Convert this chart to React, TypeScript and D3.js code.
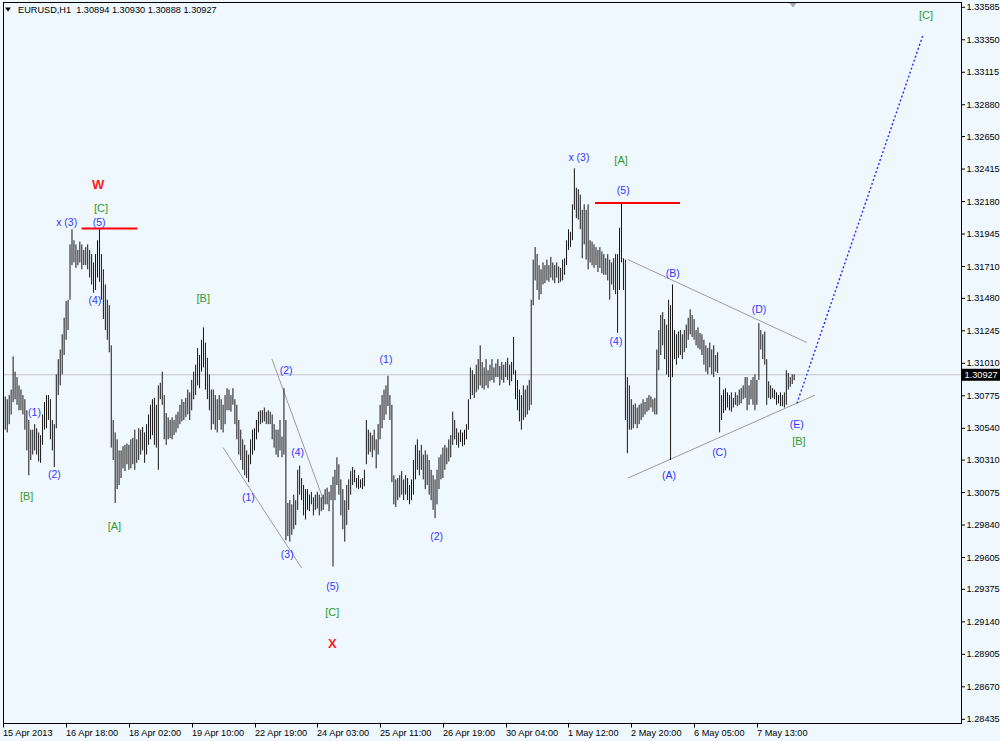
import React from 'react';
import * as d3 from 'd3';

// ---------- data ----------
const SYMBOL = 'EURUSD,H1';
const LAST_OHLC = [1.30894, 1.3093, 1.30888, 1.30927];

// hourly highs, 15 Apr 2013 10:00 -> 8 May 2013
const HIGH = [
  1.3093, 1.3077, 1.3075, 1.3078, 1.3082, 1.3106, 1.3095, 1.3091, 1.3085, 1.3082,
  1.3078, 1.3075, 1.3067, 1.3060, 1.3053, 1.3053, 1.3057, 1.3054, 1.3051, 1.3049,
  1.3064, 1.3073, 1.3078, 1.3078, 1.3075, 1.3060, 1.3057, 1.3093, 1.3104, 1.3111,
  1.3122, 1.3134, 1.3146, 1.3147, 1.3187, 1.3198, 1.3190, 1.3187, 1.3183, 1.3189,
  1.3187, 1.3183, 1.3185, 1.3187, 1.3183, 1.3180, 1.3174, 1.3180, 1.3190, 1.3198,
  1.3180, 1.3169, 1.3158, 1.3147, 1.3143, 1.3114, 1.3060, 1.3051, 1.3046, 1.3038,
  1.3038, 1.3041, 1.3042, 1.3043, 1.3042, 1.3046, 1.3047, 1.3053, 1.3046, 1.3054,
  1.3053, 1.3055, 1.3051, 1.3057, 1.3064, 1.3071, 1.3075, 1.3076, 1.3071, 1.3085,
  1.3087, 1.3095, 1.3078, 1.3065, 1.3062, 1.3060, 1.3062, 1.3060, 1.3064, 1.3066,
  1.3071, 1.3075, 1.3073, 1.3076, 1.3082, 1.3080, 1.3089, 1.3095, 1.3100, 1.3112,
  1.3107, 1.3118, 1.3127, 1.3116, 1.3105, 1.3093, 1.3082, 1.3082, 1.3078, 1.3075,
  1.3078, 1.3075, 1.3071, 1.3078, 1.3083, 1.3082, 1.3078, 1.3083, 1.3075, 1.3071,
  1.3060, 1.3053, 1.3046, 1.3042, 1.3038, 1.3035, 1.3046, 1.3053, 1.3054, 1.3060,
  1.3066, 1.3067, 1.3067, 1.3069, 1.3066, 1.3067, 1.3066, 1.3064, 1.3057, 1.3053,
  1.3053, 1.3060, 1.3048, 1.3083, 1.3060, 1.3000, 1.3002, 1.2999, 1.3006, 1.3002,
  1.3024, 1.3027, 1.3018, 1.3013, 1.3010, 1.3010, 1.3006, 1.3008, 1.3004, 1.3006,
  1.3008, 1.3006, 1.3004, 1.3006, 1.3010, 1.3011, 1.3008, 1.3013, 1.3019, 1.3024,
  1.3033, 1.3028, 1.3017, 1.3010, 1.3002, 1.3013, 1.3017, 1.3023, 1.3026, 1.3024,
  1.3018, 1.3020, 1.3017, 1.3018, 1.3024, 1.3060, 1.3053, 1.3051, 1.3049, 1.3053,
  1.3046, 1.3057, 1.3071, 1.3078, 1.3082, 1.3085, 1.3092, 1.3078, 1.3071, 1.3020,
  1.3017, 1.3018, 1.3020, 1.3023, 1.3017, 1.3020, 1.3018, 1.3013, 1.3017, 1.3031,
  1.3042, 1.3046, 1.3038, 1.3042, 1.3035, 1.3038, 1.3035, 1.3031, 1.3024, 1.3020,
  1.3017, 1.3024, 1.3033, 1.3035, 1.3040, 1.3042, 1.3040, 1.3046, 1.3049, 1.3066,
  1.3060, 1.3054, 1.3051, 1.3053, 1.3051, 1.3053, 1.3057, 1.3075, 1.3098, 1.3096,
  1.3093, 1.3100, 1.3104, 1.3114, 1.3102, 1.3098, 1.3104, 1.3096, 1.3100, 1.3104,
  1.3098, 1.3101, 1.3104, 1.3099, 1.3102, 1.3100, 1.3102, 1.3105, 1.3100, 1.3102,
  1.3120, 1.3096, 1.3089, 1.3082, 1.3078, 1.3085, 1.3082, 1.3085, 1.3089, 1.3147,
  1.3176, 1.3185, 1.3180, 1.3172, 1.3169, 1.3174, 1.3172, 1.3176, 1.3172, 1.3178,
  1.3174, 1.3172, 1.3174, 1.3171, 1.3170, 1.3176, 1.3177, 1.3190, 1.3198, 1.3196,
  1.3216, 1.3242, 1.3228, 1.3227, 1.3223, 1.3212, 1.3216, 1.3212, 1.3216, 1.3190,
  1.3189, 1.3187, 1.3185, 1.3183, 1.3185, 1.3182, 1.3180, 1.3177, 1.3180, 1.3176,
  1.3174, 1.3177, 1.3180, 1.3180, 1.3199, 1.3217, 1.3177, 1.3176, 1.3091, 1.3085,
  1.3075, 1.3071, 1.3072, 1.3069, 1.3071, 1.3072, 1.3075, 1.3073, 1.3076, 1.3078,
  1.3077, 1.3075, 1.3076, 1.3111, 1.3125, 1.3136, 1.3138, 1.3133, 1.3129, 1.3147,
  1.3143, 1.3158, 1.3125, 1.3122, 1.3124, 1.3125, 1.3122, 1.3125, 1.3129, 1.3134,
  1.3140, 1.3136, 1.3133, 1.3125, 1.3127, 1.3123, 1.3122, 1.3118, 1.3114, 1.3112,
  1.3116, 1.3111, 1.3114, 1.3107, 1.3109, 1.3091, 1.3078, 1.3082, 1.3083, 1.3080,
  1.3078, 1.3080, 1.3076, 1.3080, 1.3078, 1.3082, 1.3083, 1.3085, 1.3091, 1.3091,
  1.3085, 1.3089, 1.3091, 1.3093, 1.3089, 1.3130, 1.3125, 1.3122, 1.3124, 1.3104,
  1.3088, 1.3085, 1.3083, 1.3082, 1.3080, 1.3078, 1.3080, 1.3078, 1.3080, 1.3096,
  1.3094, 1.3091, 1.3093, 1.3093,
];

const LOW = [
  1.3064, 1.3053, 1.3051, 1.3057, 1.3064, 1.3073, 1.3075, 1.3071, 1.3067, 1.3067,
  1.3064, 1.3053, 1.3038, 1.3020, 1.3031, 1.3035, 1.3038, 1.3035, 1.3030, 1.3029,
  1.3042, 1.3053, 1.3054, 1.3060, 1.3046, 1.3038, 1.3026, 1.3054, 1.3078, 1.3085,
  1.3093, 1.3107, 1.3118, 1.3125, 1.3147, 1.3172, 1.3174, 1.3170, 1.3172, 1.3174,
  1.3169, 1.3172, 1.3172, 1.3169, 1.3163, 1.3158, 1.3152, 1.3154, 1.3163, 1.3160,
  1.3147, 1.3133, 1.3125, 1.3118, 1.3109, 1.3040, 1.3031, 1.3000, 1.3010, 1.3013,
  1.3018, 1.3025, 1.3023, 1.3028, 1.3024, 1.3025, 1.3028, 1.3024, 1.3029, 1.3031,
  1.3035, 1.3038, 1.3029, 1.3035, 1.3042, 1.3046, 1.3049, 1.3042, 1.3040, 1.3024,
  1.3075, 1.3071, 1.3046, 1.3042, 1.3046, 1.3047, 1.3046, 1.3049, 1.3051, 1.3054,
  1.3057, 1.3059, 1.3060, 1.3062, 1.3064, 1.3060, 1.3067, 1.3075, 1.3078, 1.3085,
  1.3083, 1.3095, 1.3098, 1.3082, 1.3075, 1.3067, 1.3053, 1.3057, 1.3053, 1.3051,
  1.3060, 1.3053, 1.3051, 1.3057, 1.3067, 1.3067, 1.3066, 1.3071, 1.3057, 1.3046,
  1.3035, 1.3031, 1.3024, 1.3020, 1.3018, 1.3015, 1.3028, 1.3035, 1.3038, 1.3046,
  1.3051, 1.3057, 1.3058, 1.3059, 1.3057, 1.3057, 1.3057, 1.3046, 1.3040, 1.3035,
  1.3033, 1.3038, 1.3033, 1.3035, 1.2973, 1.2976, 1.2972, 1.2977, 1.2981, 1.2984,
  1.2995, 1.3006, 1.3002, 1.2991, 1.2988, 1.2995, 1.2994, 1.2999, 1.2991, 1.2995,
  1.2996, 1.2991, 1.2994, 1.2995, 1.2999, 1.2999, 1.2994, 1.3002, 1.2954, 1.3002,
  1.3013, 1.3006, 1.2991, 1.2981, 1.2972, 1.2984, 1.2995, 1.3006, 1.3013, 1.3015,
  1.3011, 1.3010, 1.3011, 1.3010, 1.3012, 1.3028, 1.3035, 1.3037, 1.3033, 1.3038,
  1.3025, 1.3035, 1.3046, 1.3054, 1.3060, 1.3064, 1.3070, 1.3060, 1.3015, 1.2999,
  1.2997, 1.3002, 1.3004, 1.3006, 1.3002, 1.3006, 1.3002, 1.2999, 1.3002, 1.3006,
  1.3017, 1.3024, 1.3020, 1.3024, 1.3017, 1.3010, 1.3013, 1.3006, 1.3002, 1.2995,
  1.2989, 1.2999, 1.3010, 1.3017, 1.3018, 1.3024, 1.3028, 1.3030, 1.3033, 1.3042,
  1.3046, 1.3042, 1.3040, 1.3044, 1.3041, 1.3042, 1.3046, 1.3053, 1.3075, 1.3078,
  1.3076, 1.3080, 1.3082, 1.3085, 1.3083, 1.3082, 1.3085, 1.3083, 1.3088, 1.3089,
  1.3087, 1.3091, 1.3091, 1.3085, 1.3089, 1.3087, 1.3091, 1.3089, 1.3085, 1.3088,
  1.3093, 1.3075, 1.3067, 1.3059, 1.3053, 1.3060, 1.3062, 1.3064, 1.3067, 1.3071,
  1.3143, 1.3161, 1.3154, 1.3147, 1.3151, 1.3158, 1.3159, 1.3161, 1.3160, 1.3163,
  1.3161, 1.3159, 1.3163, 1.3159, 1.3160, 1.3161, 1.3165, 1.3172, 1.3183, 1.3185,
  1.3190, 1.3212, 1.3206, 1.3205, 1.3198, 1.3177, 1.3187, 1.3176, 1.3169, 1.3174,
  1.3172, 1.3170, 1.3172, 1.3167, 1.3170, 1.3166, 1.3165, 1.3165, 1.3161, 1.3147,
  1.3158, 1.3154, 1.3151, 1.3123, 1.3154, 1.3174, 1.3154, 1.3060, 1.3036, 1.3053,
  1.3053, 1.3054, 1.3057, 1.3054, 1.3057, 1.3060, 1.3062, 1.3064, 1.3066, 1.3067,
  1.3069, 1.3066, 1.3064, 1.3064, 1.3096, 1.3107, 1.3114, 1.3104, 1.3093, 1.3091,
  1.3031, 1.3091, 1.3104, 1.3100, 1.3105, 1.3107, 1.3104, 1.3109, 1.3112, 1.3118,
  1.3122, 1.3120, 1.3118, 1.3114, 1.3112, 1.3111, 1.3107, 1.3100, 1.3095, 1.3093,
  1.3098, 1.3093, 1.3091, 1.3095, 1.3094, 1.3051, 1.3060, 1.3065, 1.3067, 1.3069,
  1.3067, 1.3066, 1.3069, 1.3071, 1.3070, 1.3071, 1.3072, 1.3075, 1.3076, 1.3067,
  1.3071, 1.3075, 1.3071, 1.3067, 1.3071, 1.3089, 1.3111, 1.3104, 1.3100, 1.3071,
  1.3076, 1.3075, 1.3076, 1.3075, 1.3071, 1.3072, 1.3070, 1.3070, 1.3069, 1.3071,
  1.3082, 1.3084, 1.3086, 1.30888,
];

const TIME_LABELS = [
  '15 Apr 2013', '16 Apr 18:00', '18 Apr 02:00', '19 Apr 10:00', '22 Apr 19:00',
  '24 Apr 03:00', '25 Apr 11:00', '26 Apr 19:00', '30 Apr 04:00', '1 May 12:00',
  '2 May 20:00', '6 May 05:00', '7 May 13:00',
];
const TIME_LABEL_STEP = 32; // bars between time labels

const PRICE_TICKS = [
  1.33585, 1.3335, 1.33115, 1.3288, 1.3265, 1.32415, 1.3218, 1.31945, 1.3171, 1.3148,
  1.31245, 1.3101, 1.30775, 1.3054, 1.3031, 1.30075, 1.2984, 1.29605, 1.29375, 1.2914,
  1.28905, 1.2867, 1.28435,
];

// Elliott wave labels: bar position + price
const WAVE_LABELS = [
  { text: 'W', bar: 48.3, price: 1.3230, kind: 'major' },
  { text: '[C]', bar: 49.8, price: 1.3213, kind: 'inter' },
  { text: 'x (3)', bar: 32.3, price: 1.3203, kind: 'minor' },
  { text: '(5)', bar: 48.8, price: 1.3203, kind: 'minor' },
  { text: '(4)', bar: 46.7, price: 1.3147, kind: 'minor' },
  { text: '(1)', bar: 15.9, price: 1.3066, kind: 'minor' },
  { text: '(2)', bar: 26.0, price: 1.3021, kind: 'minor' },
  { text: '[B]', bar: 11.9, price: 1.3005, kind: 'inter' },
  { text: '[A]', bar: 56.6, price: 1.2983, kind: 'inter' },
  { text: '[B]', bar: 101.9, price: 1.3148, kind: 'inter' },
  { text: '(2)', bar: 144.1, price: 1.3096, kind: 'minor' },
  { text: '(4)', bar: 150.0, price: 1.3037, kind: 'minor' },
  { text: '(1)', bar: 124.9, price: 1.3004, kind: 'minor' },
  { text: '(3)', bar: 144.7, price: 1.2963, kind: 'minor' },
  { text: '(5)', bar: 167.8, price: 1.2940, kind: 'minor' },
  { text: '[C]', bar: 167.6, price: 1.2921, kind: 'inter' },
  { text: 'X', bar: 167.6, price: 1.2898, kind: 'major' },
  { text: '(1)', bar: 195.0, price: 1.3104, kind: 'minor' },
  { text: '(2)', bar: 220.8, price: 1.2976, kind: 'minor' },
  { text: 'x (3)', bar: 293.3, price: 1.3250, kind: 'minor' },
  { text: '[A]', bar: 314.8, price: 1.3248, kind: 'inter' },
  { text: '(5)', bar: 315.9, price: 1.3226, kind: 'minor' },
  { text: '(4)', bar: 312.2, price: 1.3117, kind: 'minor' },
  { text: '(B)', bar: 341.1, price: 1.3166, kind: 'minor' },
  { text: '(A)', bar: 339.2, price: 1.3020, kind: 'minor' },
  { text: '(C)', bar: 364.9, price: 1.3037, kind: 'minor' },
  { text: '(D)', bar: 385.1, price: 1.3140, kind: 'minor' },
  { text: '(E)', bar: 404.3, price: 1.3057, kind: 'minor' },
  { text: '[B]', bar: 405.4, price: 1.3045, kind: 'inter' },
  { text: '[C]', bar: 470.2, price: 1.3353, kind: 'inter' },
];

const LEVELS = [
  { from: 39.9, to: 68.3, price: 1.31985 },
  { from: 301.5, to: 344.8, price: 1.3217 },
];

const TRENDLINES = [
  { b0: 112.0, p0: 1.3040, b1: 152.0, p1: 1.2953 },
  { b0: 136.9, p0: 1.3104, b1: 162.9, p1: 1.3003 },
  { b0: 318.3, p0: 1.3176, b1: 409.5, p1: 1.3116 },
  { b0: 318.3, p0: 1.3018, b1: 413.6, p1: 1.3078 },
];

const PROJECTION = { b0: 404.4, p0: 1.3072, b1: 468.5, p1: 1.3338 };

// ---------- layout ----------
const W = 1000;
const H = 741;
const L = 3.5;
const T = 2.5;
const R = 961.5;
const B = 723.5;
const FONT = "'Liberation Sans', Arial, sans-serif";
const BG = '#f0f8ff';

const COLORS: Record<string, string> = {
  minor: '#3434ff',
  inter: '#2f9a2f',
  major: '#ff1a1a',
};

export default function App() {
  const x = d3.scaleLinear().domain([0, 400]).range([3.3, 788.3]);
  const y = d3.scaleLinear().domain([1.28435, 1.33585]).range([719.3, 7.3]);
  const last = LAST_OHLC[3];
  const fmt = d3.format('.5f');

  return (
    <svg
      width={W}
      height={H}
      style={{ position: 'absolute', left: 0, top: 0, display: 'block', background: BG }}
      fontFamily={FONT}
    >
      <defs>
        <clipPath id="plot">
          <rect x={L} y={T} width={R - L} height={B - T} />
        </clipPath>
      </defs>
      <rect x={0} y={0} width={W} height={H} fill={BG} />

      {/* current price line */}
      <line x1={L} x2={R} y1={y(last)} y2={y(last)} stroke="#c4c4c4" strokeWidth={1} />

      <g clipPath="url(#plot)">
        {/* trend lines */}
        {TRENDLINES.map((t, k) => (
          <line
            key={'t' + k}
            x1={x(t.b0)}
            y1={y(t.p0)}
            x2={x(t.b1)}
            y2={y(t.p1)}
            stroke="#9c9c9c"
            strokeWidth={1}
          />
        ))}
        {/* bars */}
        {HIGH.map((h, i) => (
          <line
            key={'b' + i}
            x1={x(i)}
            x2={x(i)}
            y1={y(h)}
            y2={y(LOW[i])}
            stroke="#151515"
            strokeWidth={1}
          />
        ))}
        {/* red levels */}
        {LEVELS.map((l, k) => (
          <line
            key={'l' + k}
            x1={x(l.from)}
            x2={x(l.to)}
            y1={y(l.price)}
            y2={y(l.price)}
            stroke="#ff0000"
            strokeWidth={2}
          />
        ))}
        {/* projection */}
        <line
          x1={x(PROJECTION.b0)}
          y1={y(PROJECTION.p0)}
          x2={x(PROJECTION.b1)}
          y2={y(PROJECTION.p1)}
          stroke="#2a2aff"
          strokeWidth={1.4}
          strokeDasharray="2 2.2"
        />
        {/* wave labels */}
        {WAVE_LABELS.map((w, k) => (
          <text
            key={'w' + k}
            x={x(w.bar)}
            y={y(w.price)}
            textAnchor="middle"
            dominantBaseline="central"
            fill={COLORS[w.kind]}
            fontSize={w.kind === 'major' ? 13 : w.kind === 'inter' ? 11 : 10.5}
            fontWeight={w.kind === 'major' ? 'bold' : 'normal'}
          >
            {w.text}
          </text>
        ))}
      </g>

      {/* chart-shift marker */}
      <polygon points="789,2.5 797,2.5 793,7.5" fill="#a8a8a8" />

      {/* frame */}
      <rect x={L} y={T} width={R - L} height={B - T} fill="none" stroke="#000" strokeWidth={1} />

      {/* header */}
      <polygon points="5,7.5 11,7.5 8,11.5" fill="#000" />
      <text x={18} y={10} fontSize={9.2} dominantBaseline="central" fill="#000">
        {SYMBOL + '\u00a0\u00a0' + LAST_OHLC.map((v) => fmt(v)).join(' ')}
      </text>

      {/* price axis */}
      {PRICE_TICKS.map((p) => (
        <g key={'p' + p}>
          <line x1={R} x2={R + 3.5} y1={y(p)} y2={y(p)} stroke="#000" />
          <text x={966.5} y={y(p)} fontSize={9.2} dominantBaseline="central" fill="#000">
            {fmt(p)}
          </text>
        </g>
      ))}
      <rect x={R + 0.5} y={y(last) - 6} width={W - R} height={12} fill="#000" />
      <text x={964.5} y={y(last)} fontSize={9.2} dominantBaseline="central" fill="#fff">
        {fmt(last)}
      </text>

      {/* time axis */}
      {TIME_LABELS.map((t, k) => {
        const xx = Math.round(x(k * TIME_LABEL_STEP)) + 0.5;
        return (
          <g key={'tl' + k}>
            <line x1={xx} x2={xx} y1={B} y2={B + 4} stroke="#000" />
            <text x={xx - 0.5} y={733} fontSize={9.2} dominantBaseline="central" fill="#000">
              {t}
            </text>
          </g>
        );
      })}
    </svg>
  );
}
